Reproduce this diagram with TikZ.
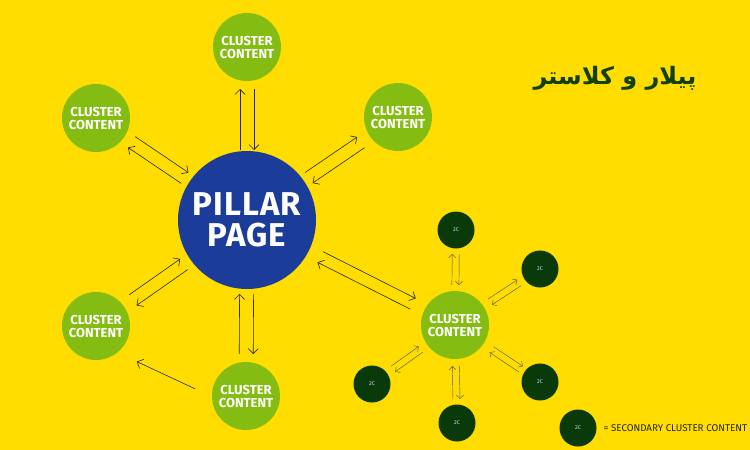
\documentclass[tikz,border=0pt]{standalone}
\usepackage{fontspec}
\usepackage{xcolor}
\usepackage{tikz}
\usetikzlibrary{calc, arrows.meta}
\TeXXeTstate=1
\newfontfamily\labelfont{Fira Sans}
\newfontfamily\pillarfont[LetterSpace=3]{Fira Sans}
\newfontfamily\titlefont[Script=Arabic]{DejaVu Sans}
\definecolor{board}{HTML}{FFDD00}
\definecolor{cluster-green}{HTML}{84BC12}
\definecolor{pillar-blue}{HTML}{1B3D99}
\definecolor{second-green}{HTML}{0A3A0A}
\definecolor{title-green}{HTML}{12400A}
\colorlet{line-color}{black!85}
\tikzset{
    pillar/.style = {circle, fill=pillar-blue, minimum size=138pt, inner sep=0pt,
        text=white, align=center, font=\pillarfont\bfseries\fontsize{33}{31}\selectfont},
    cluster/.style = {circle, fill=cluster-green, minimum size=68pt, inner sep=0pt,
        text=white, align=center, font=\labelfont\bfseries\fontsize{13}{13}\selectfont},
    second/.style = {circle, fill=second-green, minimum size=37pt, inner sep=0pt,
        text=white!85!blue, font=\labelfont\fontsize{5.5}{6}\selectfont},
    flow/.style = {draw=line-color, line width=0.6pt, -{Straight Barb[length=5pt,width=10pt]}},
    subflow/.style = {draw=black!65, line width=0.45pt, -{Straight Barb[length=3.5pt,width=7pt]}}
}
\begin{document}
\begin{tikzpicture}[x=1pt, y=-1pt]
\fill[board] (0,0) rectangle (750,450);
\useasboundingbox (0,0) rectangle (750,450);

%pillar and cluster
\node[pillar] (pillar) at (247,220) {PILLAR\\PAGE};
\node[cluster] (ctop) at (247,47) {CLUSTER\\CONTENT};
\node[cluster] (cleftup) at (96,118) {CLUSTER\\CONTENT};
\node[cluster] (crightup) at (398,117) {CLUSTER\\CONTENT};
\node[cluster] (cleftlow) at (96,326) {CLUSTER\\CONTENT};
\node[cluster] (cbottom) at (246,396) {CLUSTER\\CONTENT};
\node[cluster] (chub) at (455,325) {CLUSTER\\CONTENT};

%secondary cluster
\node[second] (stop) at (456,230) {2C};
\node[second] (srightup) at (540,269) {2C};
\node[second] (srightlow) at (540,382) {2C};
\node[second] (sbottom) at (457,423) {2C};
\node[second] (sleftlow) at (372,384) {2C};

%key
\node[second] (skey) at (578,428) {2C};
\node[anchor=west, font=\labelfont\fontsize{9.8}{10}\selectfont, text=black!85] (keytext) at (600,428) {= SECONDARY CLUSTER CONTENT};

%title
\node[text=title-green, font=\titlefont\bfseries\fontsize{24}{28}\selectfont] (heading) at (615,78) {\beginR پیلار و کلاستر\endR};

%pillar links
\draw[flow] ($(pillar)!70pt!(ctop)!7pt!90:(ctop)$) -- ($(ctop)!42pt!(pillar)!7pt!-90:(pillar)$);
\draw[flow] ($(ctop)!42pt!(pillar)!7pt!90:(pillar)$) -- ($(pillar)!70pt!(ctop)!7pt!-90:(ctop)$);
\draw[flow] ($(pillar)!75pt!(crightup)!6.5pt!90:(crightup)$) -- ($(crightup)!45pt!(pillar)!6.5pt!-90:(pillar)$);
\draw[flow] ($(crightup)!45pt!(pillar)!6.5pt!90:(pillar)$) -- ($(pillar)!75pt!(crightup)!6.5pt!-90:(crightup)$);
\draw[flow] ($(pillar)!75pt!(cleftup)!6.5pt!90:(cleftup)$) -- ($(cleftup)!43pt!(pillar)!6.5pt!-90:(pillar)$);
\draw[flow] ($(cleftup)!43pt!(pillar)!6.5pt!90:(pillar)$) -- ($(pillar)!75pt!(cleftup)!6.5pt!-90:(cleftup)$);
\draw[flow] ($(pillar)!77pt!(cleftlow)!6.5pt!90:(cleftlow)$) -- ($(cleftlow)!45pt!(pillar)!6.5pt!-90:(pillar)$);
\draw[flow] ($(cleftlow)!45pt!(pillar)!6.5pt!90:(pillar)$) -- ($(pillar)!77pt!(cleftlow)!6.5pt!-90:(cleftlow)$);
\draw[flow] ($(pillar)!74pt!(cbottom)!7pt!90:(cbottom)$) -- ($(cbottom)!42pt!(pillar)!7pt!-90:(pillar)$);
\draw[flow] ($(cbottom)!42pt!(pillar)!7pt!90:(pillar)$) -- ($(pillar)!74pt!(cbottom)!7pt!-90:(cbottom)$);
\draw[flow] ($(pillar)!82pt!(chub)!6pt!90:(chub)$) -- ($(chub)!47pt!(pillar)!6pt!-90:(pillar)$);
\draw[flow] ($(chub)!47pt!(pillar)!6pt!90:(pillar)$) -- ($(pillar)!82pt!(chub)!6pt!-90:(chub)$);
\draw[flow] ($(cbottom)!49pt!(cleftlow)!15pt!90:(cleftlow)$) -- ($(cleftlow)!52pt!(cbottom)!15pt!-90:(cbottom)$);

%secondary links
\draw[subflow] ($(chub)!40pt!(stop)!3.5pt!90:(stop)$) -- ($(stop)!24pt!(chub)!3.5pt!-90:(chub)$);
\draw[subflow] ($(stop)!24pt!(chub)!3.5pt!90:(chub)$) -- ($(chub)!40pt!(stop)!3.5pt!-90:(stop)$);
\draw[subflow] ($(chub)!42pt!(srightup)!3.5pt!90:(srightup)$) -- ($(srightup)!25pt!(chub)!3.5pt!-90:(chub)$);
\draw[subflow] ($(srightup)!25pt!(chub)!3.5pt!90:(chub)$) -- ($(chub)!42pt!(srightup)!3.5pt!-90:(srightup)$);
\draw[subflow] ($(chub)!44pt!(srightlow)!3.5pt!90:(srightlow)$) -- ($(srightlow)!23pt!(chub)!3.5pt!-90:(chub)$);
\draw[subflow] ($(srightlow)!23pt!(chub)!3.5pt!90:(chub)$) -- ($(chub)!44pt!(srightlow)!3.5pt!-90:(srightlow)$);
\draw[subflow] ($(chub)!41pt!(sbottom)!3.5pt!90:(sbottom)$) -- ($(sbottom)!24pt!(chub)!3.5pt!-90:(chub)$);
\draw[subflow] ($(sbottom)!24pt!(chub)!3.5pt!90:(chub)$) -- ($(chub)!41pt!(sbottom)!3.5pt!-90:(sbottom)$);
\draw[subflow] ($(chub)!42pt!(sleftlow)!3.5pt!90:(sleftlow)$) -- ($(sleftlow)!26pt!(chub)!3.5pt!-90:(chub)$);
\draw[subflow] ($(sleftlow)!26pt!(chub)!3.5pt!90:(chub)$) -- ($(chub)!42pt!(sleftlow)!3.5pt!-90:(sleftlow)$);
\end{tikzpicture}
\end{document}
